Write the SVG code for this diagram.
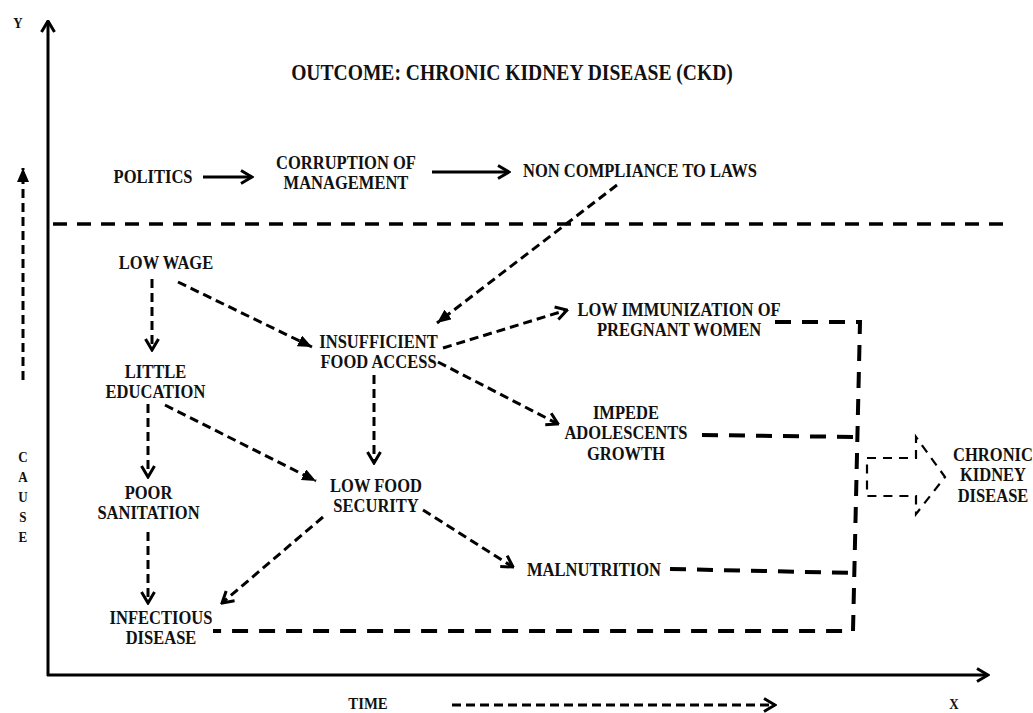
<svg xmlns="http://www.w3.org/2000/svg" width="1033" height="713" viewBox="0 0 1033 713">
<style>
text{font-family:"Liberation Serif","Times New Roman",serif;font-weight:bold;font-size:19px;text-anchor:middle;fill:#111}
.small{font-size:15px}
.title{font-size:22.5px}
.solid{fill:none;stroke:#000;stroke-width:3}
.dash{fill:none;stroke:#000;stroke-width:3;stroke-dasharray:9 5}
.thick{fill:none;stroke:#000;stroke-width:4;stroke-dasharray:16 11}
.sep{fill:none;stroke:#000;stroke-width:3.5;stroke-dasharray:14 10}
.thin{fill:none;stroke:#000;stroke-width:2.2;stroke-dasharray:9 7}
</style>
<defs>
<marker id="chev" viewBox="0 0 14 16" refX="12.5" refY="8" markerWidth="14" markerHeight="16" markerUnits="userSpaceOnUse" orient="auto">
<path d="M1.5,1.5 L12.5,8 L1.5,14.5" fill="none" stroke="#000" stroke-width="3"/>
</marker>
<marker id="tri" viewBox="0 0 14 12" refX="14" refY="6" markerWidth="14" markerHeight="12" markerUnits="userSpaceOnUse" orient="auto">
<path d="M0,0 L14,6 L0,12 Z" fill="#000"/>
</marker>
</defs>
<rect width="1033" height="713" fill="#fff"/>

<g id="axes">
<line class="solid" x1="48" y1="676" x2="48" y2="21" marker-end="url(#chev)"/>
<line class="solid" x1="47" y1="675" x2="988" y2="675" marker-end="url(#chev)"/>
<line class="sep" x1="53" y1="224" x2="1003" y2="224"/>
</g>

<g id="connectors">
<line class="solid" x1="203" y1="177" x2="252" y2="177" marker-end="url(#chev)"/>
<line class="solid" x1="432" y1="172" x2="509" y2="172" marker-end="url(#chev)"/>
<line class="dash" x1="617" y1="185" x2="437" y2="323" marker-end="url(#tri)"/>
<line class="dash" x1="152" y1="279" x2="152" y2="350" marker-end="url(#chev)"/>
<line class="dash" x1="178" y1="282" x2="312" y2="347" marker-end="url(#tri)"/>
<line class="dash" x1="148" y1="404" x2="148" y2="477" marker-end="url(#chev)"/>
<line class="dash" x1="165" y1="405" x2="316" y2="481" marker-end="url(#tri)"/>
<line class="dash" x1="374" y1="375" x2="374" y2="463" marker-end="url(#chev)"/>
<line class="dash" x1="443" y1="348" x2="567" y2="310" marker-end="url(#chev)"/>
<line class="dash" x1="438" y1="362" x2="558" y2="424" marker-end="url(#chev)"/>
<line class="dash" x1="148" y1="532" x2="148" y2="603" marker-end="url(#chev)"/>
<line class="dash" x1="323" y1="517" x2="222" y2="603" marker-end="url(#chev)"/>
<line class="dash" x1="423" y1="510" x2="513" y2="567" marker-end="url(#chev)"/>
<line class="dash" x1="452" y1="705" x2="775" y2="705" marker-end="url(#chev)"/>
<line class="dash" stroke-dasharray="12 11" x1="23" y1="380" x2="23" y2="168" marker-end="url(#tri)"/>
<path class="thick" d="M775,322 H860 L853,631 H213"/>
<path class="thick" d="M702,435 L857,437"/>
<path class="thick" d="M670,569 L855,573"/>
<path class="thin" d="M867,458 H916 V437 L945,477 L916,514 V496 H867 Z"/>
</g>

<g id="label-y" transform="scale(0.87,1)"><text class="small" x="20.7" y="28">Y</text></g>
<g id="title" transform="scale(0.87,1)"><text class="title" x="588.5" y="80">OUTCOME: CHRONIC KIDNEY DISEASE (CKD)</text></g>
<g id="politics" transform="scale(0.87,1)"><text x="175.9" y="183.5">POLITICS</text></g>
<g id="corruption" transform="scale(0.87,1)"><text x="397.7" y="169">CORRUPTION OF</text><text x="397.7" y="189.5">MANAGEMENT</text></g>
<g id="non-compliance" transform="scale(0.87,1)"><text x="735.6" y="177.5">NON COMPLIANCE TO LAWS</text></g>
<g id="low-wage" transform="scale(0.87,1)"><text x="190.8" y="269.5">LOW WAGE</text></g>
<g id="little-education" transform="scale(0.87,1)"><text x="178.7" y="378">LITTLE</text><text x="178.7" y="398.5">EDUCATION</text></g>
<g id="insufficient-food-access" transform="scale(0.87,1)"><text x="435.1" y="348">INSUFFICIENT</text><text x="435.1" y="368.5">FOOD ACCESS</text></g>
<g id="low-immunization" transform="scale(0.87,1)"><text x="780.5" y="316">LOW IMMUNIZATION OF</text><text x="780.5" y="336.5">PREGNANT WOMEN</text></g>
<g id="impede-growth" transform="scale(0.87,1)"><text x="719.5" y="419">IMPEDE</text><text x="719.5" y="439.5">ADOLESCENTS</text><text x="719.5" y="460">GROWTH</text></g>
<g id="poor-sanitation" transform="scale(0.87,1)"><text x="170.7" y="499">POOR</text><text x="170.7" y="519.5">SANITATION</text></g>
<g id="low-food-security" transform="scale(0.87,1)"><text x="432.2" y="492">LOW FOOD</text><text x="432.2" y="512.5">SECURITY</text></g>
<g id="malnutrition" transform="scale(0.87,1)"><text x="682.8" y="576.5">MALNUTRITION</text></g>
<g id="infectious-disease" transform="scale(0.87,1)"><text x="185.1" y="624">INFECTIOUS</text><text x="185.1" y="644.5">DISEASE</text></g>
<g id="ckd" transform="scale(0.87,1)"><text x="1141.4" y="461">CHRONIC</text><text x="1141.4" y="481.5">KIDNEY</text><text x="1141.4" y="502">DISEASE</text></g>
<g id="label-time" transform="scale(0.87,1)"><text x="423" y="709" style="font-size:17px">TIME</text></g>
<g id="label-x" transform="scale(0.87,1)"><text class="small" x="1096.6" y="709">X</text></g>
<g id="label-cause" transform="scale(0.87,1)"><text class="small" x="26.4" y="462">C</text><text class="small" x="26.4" y="482">A</text><text class="small" x="26.4" y="502">U</text><text class="small" x="26.4" y="522">S</text><text class="small" x="26.4" y="542">E</text></g>
</svg>
